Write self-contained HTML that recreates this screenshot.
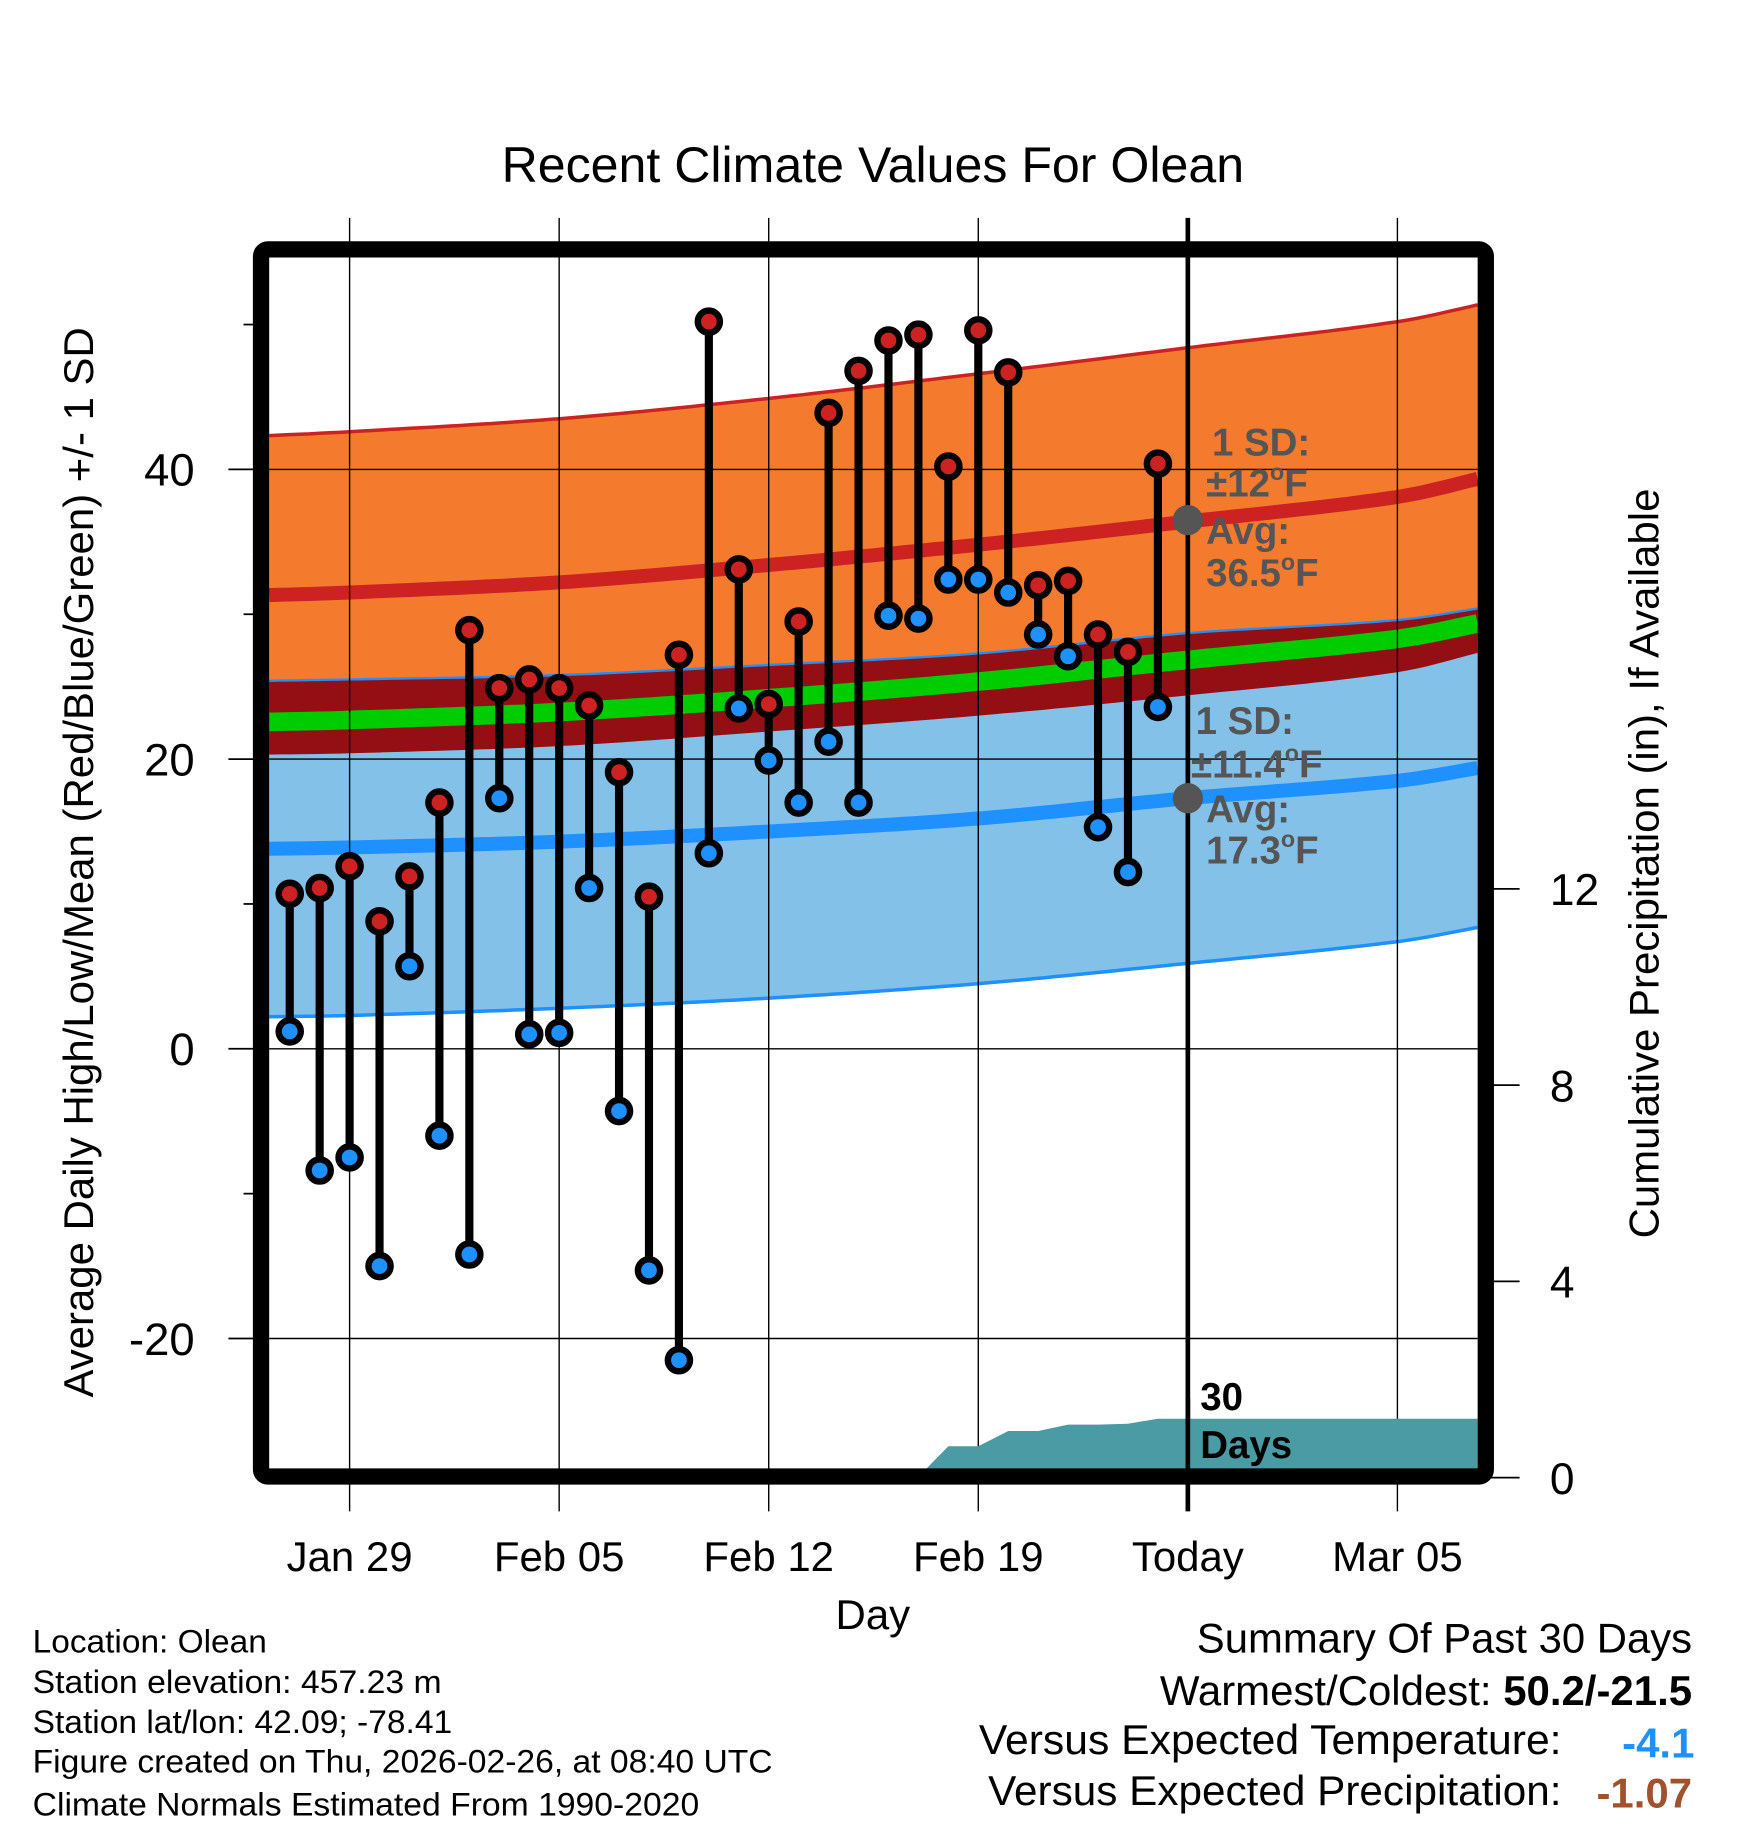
<!DOCTYPE html>
<html><head><meta charset="utf-8"><title>Recent Climate Values For Olean</title>
<style>html,body{margin:0;padding:0;background:#fff}svg{display:block}text{font-family:"Liberation Sans",sans-serif}</style>
</head><body>
<svg id="chart" width="1748" height="1828" viewBox="0 0 1500 1568.65" xmlns="http://www.w3.org/2000/svg">
<g id="bands"></g>
<g id="grid"></g>
<g id="precip"></g>
<g id="marks"></g>
<g id="annot"></g>
<rect x="224" y="214" width="1051" height="1053" rx="6" fill="none" stroke="#000" stroke-width="14"/>
<g id="axes"></g>
<text x="749" y="156" font-size="43" text-anchor="middle">Recent Climate Values For Olean</text>
<text x="749" y="1398" font-size="36" text-anchor="middle">Day</text>
<text transform="translate(80,740) rotate(-90)" font-size="36" text-anchor="middle">Average Daily High/Low/Mean (Red/Blue/Green) +/- 1 SD</text>
<text transform="translate(1423,741) rotate(-90)" font-size="36" text-anchor="middle">Cumulative Precipitation (in), If Available</text>
<g font-size="28">
<text x="28" y="1418" textLength="201" lengthAdjust="spacingAndGlyphs">Location: Olean</text>
<text x="28" y="1453" textLength="351" lengthAdjust="spacingAndGlyphs">Station elevation: 457.23 m</text>
<text x="28" y="1487" textLength="360" lengthAdjust="spacingAndGlyphs">Station lat/lon: 42.09; -78.41</text>
<text x="28" y="1521" textLength="635" lengthAdjust="spacingAndGlyphs">Figure created on Thu, 2026-02-26, at 08:40 UTC</text>
<text x="28" y="1558" textLength="572" lengthAdjust="spacingAndGlyphs">Climate Normals Estimated From 1990-2020</text>
</g>
<g font-size="36">
<text x="1452" y="1418" text-anchor="end" textLength="425" lengthAdjust="spacingAndGlyphs">Summary Of Past 30 Days</text>
<text x="1452" y="1463" text-anchor="end">Warmest/Coldest: <tspan font-weight="bold">50.2/-21.5</tspan></text>
<text x="1340" y="1505" text-anchor="end" textLength="500" lengthAdjust="spacingAndGlyphs">Versus Expected Temperature:</text>
<text x="1454" y="1508" text-anchor="end" font-weight="bold" fill="#1e90ff">-4.1</text>
<text x="1340" y="1549" text-anchor="end" textLength="492" lengthAdjust="spacingAndGlyphs">Versus Expected Precipitation:</text>
<text x="1452" y="1551" text-anchor="end" font-weight="bold" fill="#a0522d">-1.07</text>
</g>
</svg>
<script>
// ---- data ----
const days = [-2,-1,0,1,2,3,4,5,6,7,8,9,10,11,12,13,14,15,16,17,18,19,20,21,22,23,24,25,26,27];
const highs = [10.7,11.1,12.6,8.8,11.9,17.0,28.9,24.9,25.5,24.9,23.7,19.1,10.5,27.2,50.2,33.1,23.8,29.5,43.9,46.8,48.9,49.3,40.2,49.6,46.7,32.0,32.3,28.6,27.4,40.4];
const lows = [1.2,-8.4,-7.5,-15.0,5.7,-6.0,-14.2,17.3,1.0,1.1,11.1,-4.3,-15.3,-21.5,13.5,23.5,19.9,17.0,21.2,17.0,29.9,29.7,32.4,32.4,31.5,28.6,27.1,15.3,12.2,23.6];
const precip = [0,0,0,0,0,0,0,0,0,0,0,0,0,0,0,0.02,0.02,0.02,0.02,0.02,0.02,0.02,0.64,0.64,0.95,0.95,1.08,1.08,1.1,1.2];
const normDays = [-3,0,7,14,21,28,35,38];
const highAvg = [31.3,31.5,32.2,33.4,34.8,36.4,38.1,39.5];
const highSD = [11.0,11.1,11.3,11.5,11.8,12.0,12.1,12.0];
const lowAvg = [13.8,13.9,14.3,15.0,15.9,17.3,18.5,19.5];
const lowSD = [11.6,11.6,11.5,11.5,11.4,11.4,11.1,11.0];
const yTicks = [-20,0,20,40];
const yMinor = [-10,10,30,50];
const y2Ticks = [0,4,8,12];
const xTickDays = [0,7,14,21,28,35];
const xTickLabels = ["Jan 29","Feb 05","Feb 12","Feb 19","Today","Mar 05"];
const todayDay = 28;
// ---- scales ----
const X0=231, X1=1268, YT=221, YB=1260;
const x = d => 300 + d*25.69;
const y = v => 900 - v*12.43;
const y2 = p => 1268 - p*42.1;
const dMin=(X0-300)/25.69, dMax=(X1-300)/25.69;
const NS="http://www.w3.org/2000/svg";
function mk(tag, parent, attrs){const e=document.createElementNS(NS,tag);for(const k in attrs)e.setAttribute(k,attrs[k]);parent.appendChild(e);return e;}
function interp(arr,d){
 const n=normDays.length;let i=0;
 while(i<n-2&&d>normDays[i+1])i++;
 const t=(d-normDays[i])/(normDays[i+1]-normDays[i]);
 const p0=arr[Math.max(i-1,0)],p1=arr[i],p2=arr[i+1],p3=arr[Math.min(i+2,n-1)];
 const h=normDays[i+1]-normDays[i];
 const m1=i>0?(p2-p0)/(normDays[i+1]-normDays[i-1])*h:(p2-p1);
 const m2=i+2<n?(p3-p1)/(normDays[i+2]-normDays[i])*h:(p2-p1);
 const t2=t*t,t3=t2*t;
 return (2*t3-3*t2+1)*p1+(t3-2*t2+t)*m1+(-2*t3+3*t2)*p2+(t3-t2)*m2;
}
const samples=[];for(let i=0;i<=120;i++)samples.push(dMin+(dMax-dMin)*i/120);
const f=(fn)=>samples.map(d=>[x(d),y(fn(d))]);
const pts=a=>a.map(p=>p[0].toFixed(1)+","+p[1].toFixed(1)).join(" ");
function band(top,bot,fill,name){const p=mk('polygon',bands,{points:pts(f(top).concat(f(bot).reverse())),fill:fill});

}
function line(fn,color,w,name){const p=mk('polyline',bands,{points:pts(f(fn)),fill:'none',stroke:color,'stroke-width':w});

}
const bands=document.getElementById('bands');
const hU=d=>interp(highAvg,d)+interp(highSD,d), hL=d=>interp(highAvg,d)-interp(highSD,d);
const lU=d=>interp(lowAvg,d)+interp(lowSD,d), lL=d=>interp(lowAvg,d)-interp(lowSD,d);
const mean=d=>(interp(highAvg,d)+interp(lowAvg,d))/2;
band(hU,hL,'#f47a2e','high-sd-band');
band(lU,lL,'#83c1e8','low-sd-band');
band(lU,hL,'#930f14','overlap-band');
line(hU,'#cc2222',3,'high-upper-line');
line(d=>interp(highAvg,d),'#cc2222',12,'high-avg-line');
line(lU,'#1e90ff',2,'low-upper-line');
line(lL,'#1e90ff',3,'low-lower-line');
line(d=>interp(lowAvg,d),'#1e90ff',12,'low-avg-line');
line(mean,'#00cc00',16,'mean-line');
// grid
const grid=document.getElementById('grid');
yTicks.forEach(v=>{const l=mk('line',grid,{x1:X0,x2:X1,y1:y(v),y2:y(v),stroke:'#000','stroke-width':1.2});

});
xTickDays.forEach((d,i)=>{const isT=d===todayDay;const l=mk('line',grid,{x1:x(d),x2:x(d),y1:187,y2:1297,stroke:'#000','stroke-width':isT?4:1.2});

});
// precip
const pr=document.getElementById('precip');
let pp=precip.map((p,i)=>[x(days[i]),y2(p)]);
pp.unshift([X0,y2(0)]);pp.push([X1,y2(precip[precip.length-1])]);pp.push([X1,y2(0)]);
const pa=mk('polygon',pr,{points:pts(pp),fill:'#4a9ba3'});


const tl=mk('line',pr,{x1:x(todayDay),x2:x(todayDay),y1:1200,y2:1262,stroke:'#000','stroke-width':4});


// marks
const mg=document.getElementById('marks');
days.forEach((d,i)=>{
 const s=mk('line',mg,{x1:x(d),x2:x(d),y1:y(highs[i]),y2:y(lows[i]),stroke:'#000','stroke-width':7});
 
 
});
days.forEach((d,i)=>{
 const h=mk('circle',mg,{cx:x(d),cy:y(highs[i]),r:9.5,fill:'#cc2222',stroke:'#000','stroke-width':5.5});
 
 
 const l=mk('circle',mg,{cx:x(d),cy:y(lows[i]),r:9.5,fill:'#1e90ff',stroke:'#000','stroke-width':5.5});
 
 
});
// annotations
const an=document.getElementById('annot');
function txt(parent,xx,yy,s,attrs,name){const t=mk('text',parent,Object.assign({x:xx,y:yy},attrs||{}));t.innerHTML=s;

return t;}
const g1={fill:'#555','font-size':33,'font-weight':'bold'};
const td=x(todayDay);
const c1=mk('circle',an,{cx:td,cy:y(36.5),r:13,fill:'#555'});


const c2=mk('circle',an,{cx:td,cy:y(17.3),r:13,fill:'#555'});


txt(an,1040,391,'1 SD:',g1,'high-sd-label');
txt(an,1035,426,'±12<tspan font-size="20" dy="-14">o</tspan><tspan dy="14">F</tspan>',g1,'high-sd-value');
txt(an,1035,467,'Avg:',g1,'high-avg-label');
txt(an,1035,503,'36.5<tspan font-size="20" dy="-14">o</tspan><tspan dy="14">F</tspan>',g1,'high-avg-value');
txt(an,1026,630,'1 SD:',g1,'low-sd-label');
txt(an,1022,667,'±11.4<tspan font-size="20" dy="-14">o</tspan><tspan dy="14">F</tspan>',g1,'low-sd-value');
txt(an,1035,706,'Avg:',g1,'low-avg-label');
txt(an,1035,741,'17.3<tspan font-size="20" dy="-14">o</tspan><tspan dy="14">F</tspan>',g1,'low-avg-value');
txt(an,1030,1210,'30',{'font-size':33,'font-weight':'bold'},'days-count');
txt(an,1030,1251,'Days',{'font-size':33,'font-weight':'bold'},'days-label');
// axes
const ax=document.getElementById('axes');
yTicks.forEach(v=>{const l=mk('line',ax,{x1:196,x2:220,y1:y(v),y2:y(v),stroke:'#000','stroke-width':1.5});


txt(ax,167,y(v)+14,String(v),{'font-size':39,'text-anchor':'end'},'y-tick-label');});
yMinor.forEach(v=>{const l=mk('line',ax,{x1:209,x2:220,y1:y(v),y2:y(v),stroke:'#000','stroke-width':1.5});

});
y2Ticks.forEach(p=>{const l=mk('line',ax,{x1:1278,x2:1304,y1:y2(p),y2:y2(p),stroke:'#000','stroke-width':1.5});


txt(ax,1330,y2(p)+14,String(p),{'font-size':38},'y2-tick-label');});
xTickDays.forEach((d,i)=>{txt(ax,x(d),1348,xTickLabels[i],{'font-size':36,'text-anchor':'middle'},'x-tick-label');});
</script>
</body></html>
